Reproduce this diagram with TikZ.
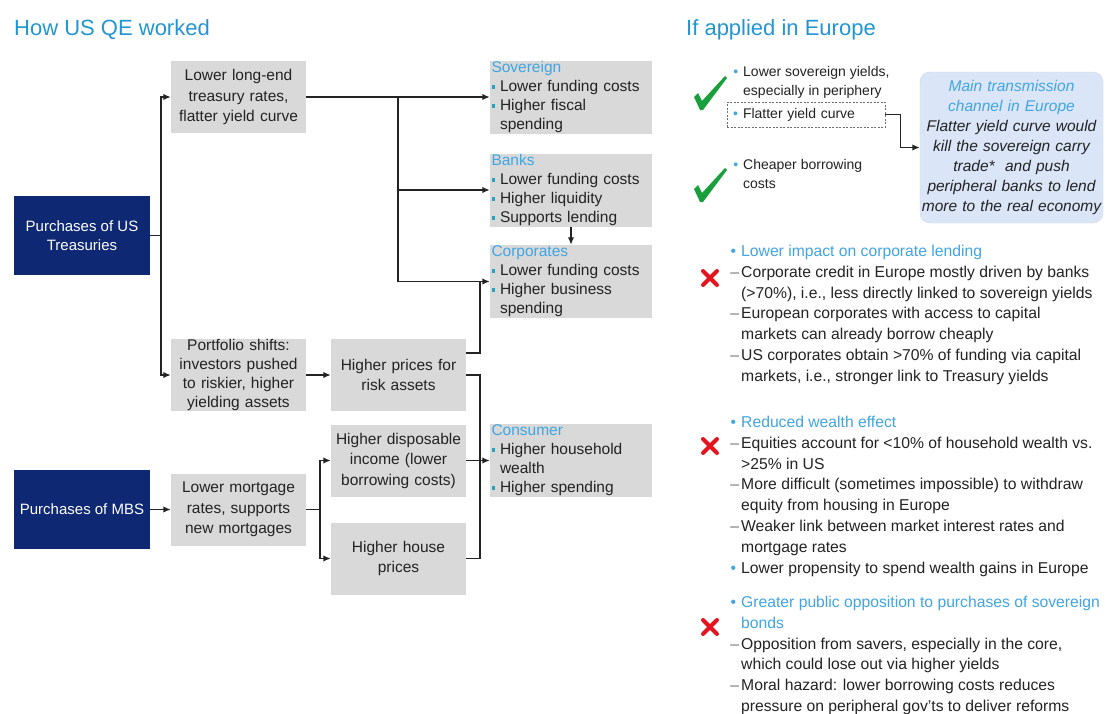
\documentclass[tikz,border=0pt]{standalone}
\usepackage{fontspec}
\setmainfont{Liberation Sans}
\usetikzlibrary{arrows.meta}
\definecolor{titleblue}{RGB}{35,150,210}
\definecolor{navy}{RGB}{15,40,115}
\definecolor{boxgray}{RGB}{217,217,217}
\definecolor{headblue}{RGB}{65,165,225}
\definecolor{sqcol}{RGB}{40,160,190}
\definecolor{txt}{RGB}{35,35,35}
\definecolor{dashcol}{RGB}{110,110,110}
\definecolor{lblue}{RGB}{218,229,248}
\definecolor{lbluedraw}{RGB}{205,215,236}
\definecolor{chkgreen}{RGB}{25,160,60}
\definecolor{xred}{RGB}{228,20,30}
\newcommand\fsz[2]{\fontsize{#1}{#2}\selectfont}
\newcommand\sqb{\textcolor{sqcol}{\rule[3pt]{3.5pt}{3.5pt}}\hspace{5pt}}
\newcommand\sqi{\hspace*{8.5pt}}
\newcommand\bl{\makebox[0pt][r]{\textcolor{headblue}{•}\hspace{5pt}}}
\newcommand\dl{\makebox[0pt][r]{\textcolor{dashcol}{–}\hspace{2pt}}}
\tikzset{
  x=1pt,y=-1pt,
  navybox/.style={fill=navy,text=white,align=center,minimum width=136pt,minimum height=79pt,inner sep=0pt,font=\fsz{15}{19.5}},
  graybox/.style={fill=boxgray,text=txt,align=center,text width=135pt,minimum height=72pt,inner xsep=0pt,inner ysep=0pt,font=\fsz{15.5}{20.5}},
  secbox/.style={fill=boxgray,text=txt,align=left,text width=159pt,inner xsep=1.5pt,inner ysep=0pt,minimum height=73pt,font=\fsz{15.5}{19}},
  ln/.style={draw=txt,line width=1.8pt},
  arr/.style={ln,-{Latex[length=7.5pt,width=6.5pt]}},
  rtext/.style={anchor=north west,inner sep=0pt,align=left,text=txt,font=\fsz{15.7}{20.8}},
  stext/.style={anchor=north west,inner sep=0pt,align=left,text=txt,font=\fsz{14}{19}},
  ttl/.style={anchor=west,inner sep=0pt,text=titleblue,font=\fsz{22}{26}},
  chk/.style={fill=chkgreen},
  xmark/.style={draw=xred,line width=4pt,line cap=round}
}
\begin{document}
\begin{tikzpicture}
\fill[white] (0,0) rectangle (1105,713);
\useasboundingbox (0,0) rectangle (1105,713);

% titles
\node[ttl] (t1) at (14,30) {How US QE worked};
\node[ttl] (t2) at (686,30) {If applied in Europe};

% left diagram
\node[navybox] (tre) at (82,235.5) {Purchases of US\\Treasuries};
\node[navybox] (mbs) at (82,509.5) {Purchases of MBS};
\node[graybox] (lle) at (238.5,97) {Lower long-end\\treasury rates,\\flatter yield curve};
\node[graybox,font=\fsz{15.5}{19}] (pfs) at (238.5,375) {Portfolio shifts:\\investors pushed\\to riskier, higher\\yielding assets};
\node[graybox] (lmr) at (238.5,509.5) {Lower mortgage\\rates, supports\\new mortgages};
\node[graybox] (hpr) at (398.5,375) {Higher prices for\\risk assets};
\node[graybox] (hdi) at (398.5,460.5) {Higher disposable\\income (lower\\borrowing costs)};
\node[graybox] (hhp) at (398.5,558.5) {Higher house\\prices};

\node[secbox] (sov) at (571,97) {\textcolor{headblue}{Sovereign}\\\sqb Lower funding costs\\\sqb Higher fiscal\\\sqi spending};
\node[secbox] (bnk) at (571,190) {\textcolor{headblue}{Banks}\\\sqb Lower funding costs\\\sqb Higher liquidity\\\sqb Supports lending};
\node[secbox] (crp) at (571,281.5) {\textcolor{headblue}{Corporates}\\\sqb Lower funding costs\\\sqb Higher business\\\sqi spending};
\node[secbox] (con) at (571,460.5) {\textcolor{headblue}{Consumer}\\\sqb Higher household\\\sqi wealth\\\sqb Higher spending};

% connectors
\coordinate (j1) at ([xshift=11pt]tre.east);
\draw[ln] (tre.east) -- (j1);
\draw[arr] (j1) |- (lle.west);
\draw[arr] (j1) |- (pfs.west);
\coordinate (j2) at ([xshift=92pt]lle.east);
\draw[arr] (lle.east) -- (sov.west);
\draw[arr] (j2) |- (bnk.west);
\draw[arr] (j2) |- (crp.west);
\draw[arr] (bnk.south) -- (crp.north);
\draw[arr] (pfs.east) -- (hpr.west);
\coordinate (j3) at ([xshift=-10pt]crp.west);
\draw[ln] ([yshift=22pt]hpr.east) -| (j3);
\coordinate (j4) at ([xshift=-10pt]con.west);
\draw[ln] (hpr.east) -| (j4);
\draw[ln] (hhp.east) -| (j4);
\draw[ln] (hdi.east) -- (j4);
\draw[arr] (j4) -- (con.west);
\draw[arr] (mbs.east) -- (lmr.west);
\coordinate (j5) at ([xshift=14pt]lmr.east);
\draw[ln] (lmr.east) -- (j5);
\draw[arr] (j5) |- (hdi.west);
\draw[arr] (j5) |- (hhp.west);

% right side: section 1
\fill[chk] (694,97) -- (698,93) -- (702,101) -- (725,76) -- (727,78) -- (703,110) -- (700,110) -- cycle;
\fill[chk,shift={(0,92)}] (694,97) -- (698,93) -- (702,101) -- (725,76) -- (727,78) -- (703,110) -- (700,110) -- cycle;
\node[stext] (s1a) at (743,66) {\bl Lower sovereign yields,\\especially in periphery};
\node[draw=dashcol,dash pattern=on 2pt off 1.5pt,line width=0.9pt,minimum width=158pt,minimum height=25pt,text width=126pt,inner xsep=16pt,inner ysep=0pt,align=left,text=txt,font=\fsz{14}{19}] (fyc) at (806,114.5) {\bl Flatter yield curve};
\node[stext] (s1c) at (743,159) {\bl Cheaper borrowing\\costs};
\node[fill=lblue,draw=lbluedraw,rounded corners=10pt,minimum width=183pt,minimum height=151pt,text width=180pt,inner sep=0pt,align=center,text=txt,font=\fsz{15.5}{20}\itshape] (mtc) at (1011.5,147.5) {\textcolor{headblue}{Main transmission}\\\textcolor{headblue}{channel in Europe}\\Flatter yield curve would\\kill the sovereign carry\\trade*\ \ and push\\peripheral banks to lend\\more to the real economy};
\draw[arr] (fyc.east) -- ++(15pt,0) |- (mtc.west);

% section 2
\draw[xmark] (703,271) -- (717,285) (717,271) -- (703,285);
\node[rtext] (s2) at (741,245) {\bl\textcolor{headblue}{Lower impact on corporate lending}\\
\dl Corporate credit in Europe mostly driven by banks\\
(>70\%), i.e., less directly linked to sovereign yields\\
\dl European corporates with access to capital\\
markets can already borrow cheaply\\
\dl US corporates obtain >70\% of funding via capital\\
markets, i.e., stronger link to Treasury yields};

% section 3
\draw[xmark] (703,439) -- (717,453) (717,439) -- (703,453);
\node[rtext] (s3) at (741,416) {\bl\textcolor{headblue}{Reduced wealth effect}\\
\dl Equities account for <10\% of household wealth vs.\\
>25\% in US\\
\dl More difficult (sometimes impossible) to withdraw\\
equity from housing in Europe\\
\dl Weaker link between market interest rates and\\
mortgage rates\\
\bl Lower propensity to spend wealth gains in Europe};

% section 4
\draw[xmark] (703,620) -- (717,634) (717,620) -- (703,634);
\node[rtext] (s4) at (741,596) {\bl\textcolor{headblue}{Greater public opposition to purchases of sovereign}\\
\textcolor{headblue}{bonds}\\
\dl Opposition from savers, especially in the core,\\
which could lose out via higher yields\\
\dl Moral hazard: lower borrowing costs reduces\\
pressure on peripheral gov'ts to deliver reforms};
\end{tikzpicture}
\end{document}
